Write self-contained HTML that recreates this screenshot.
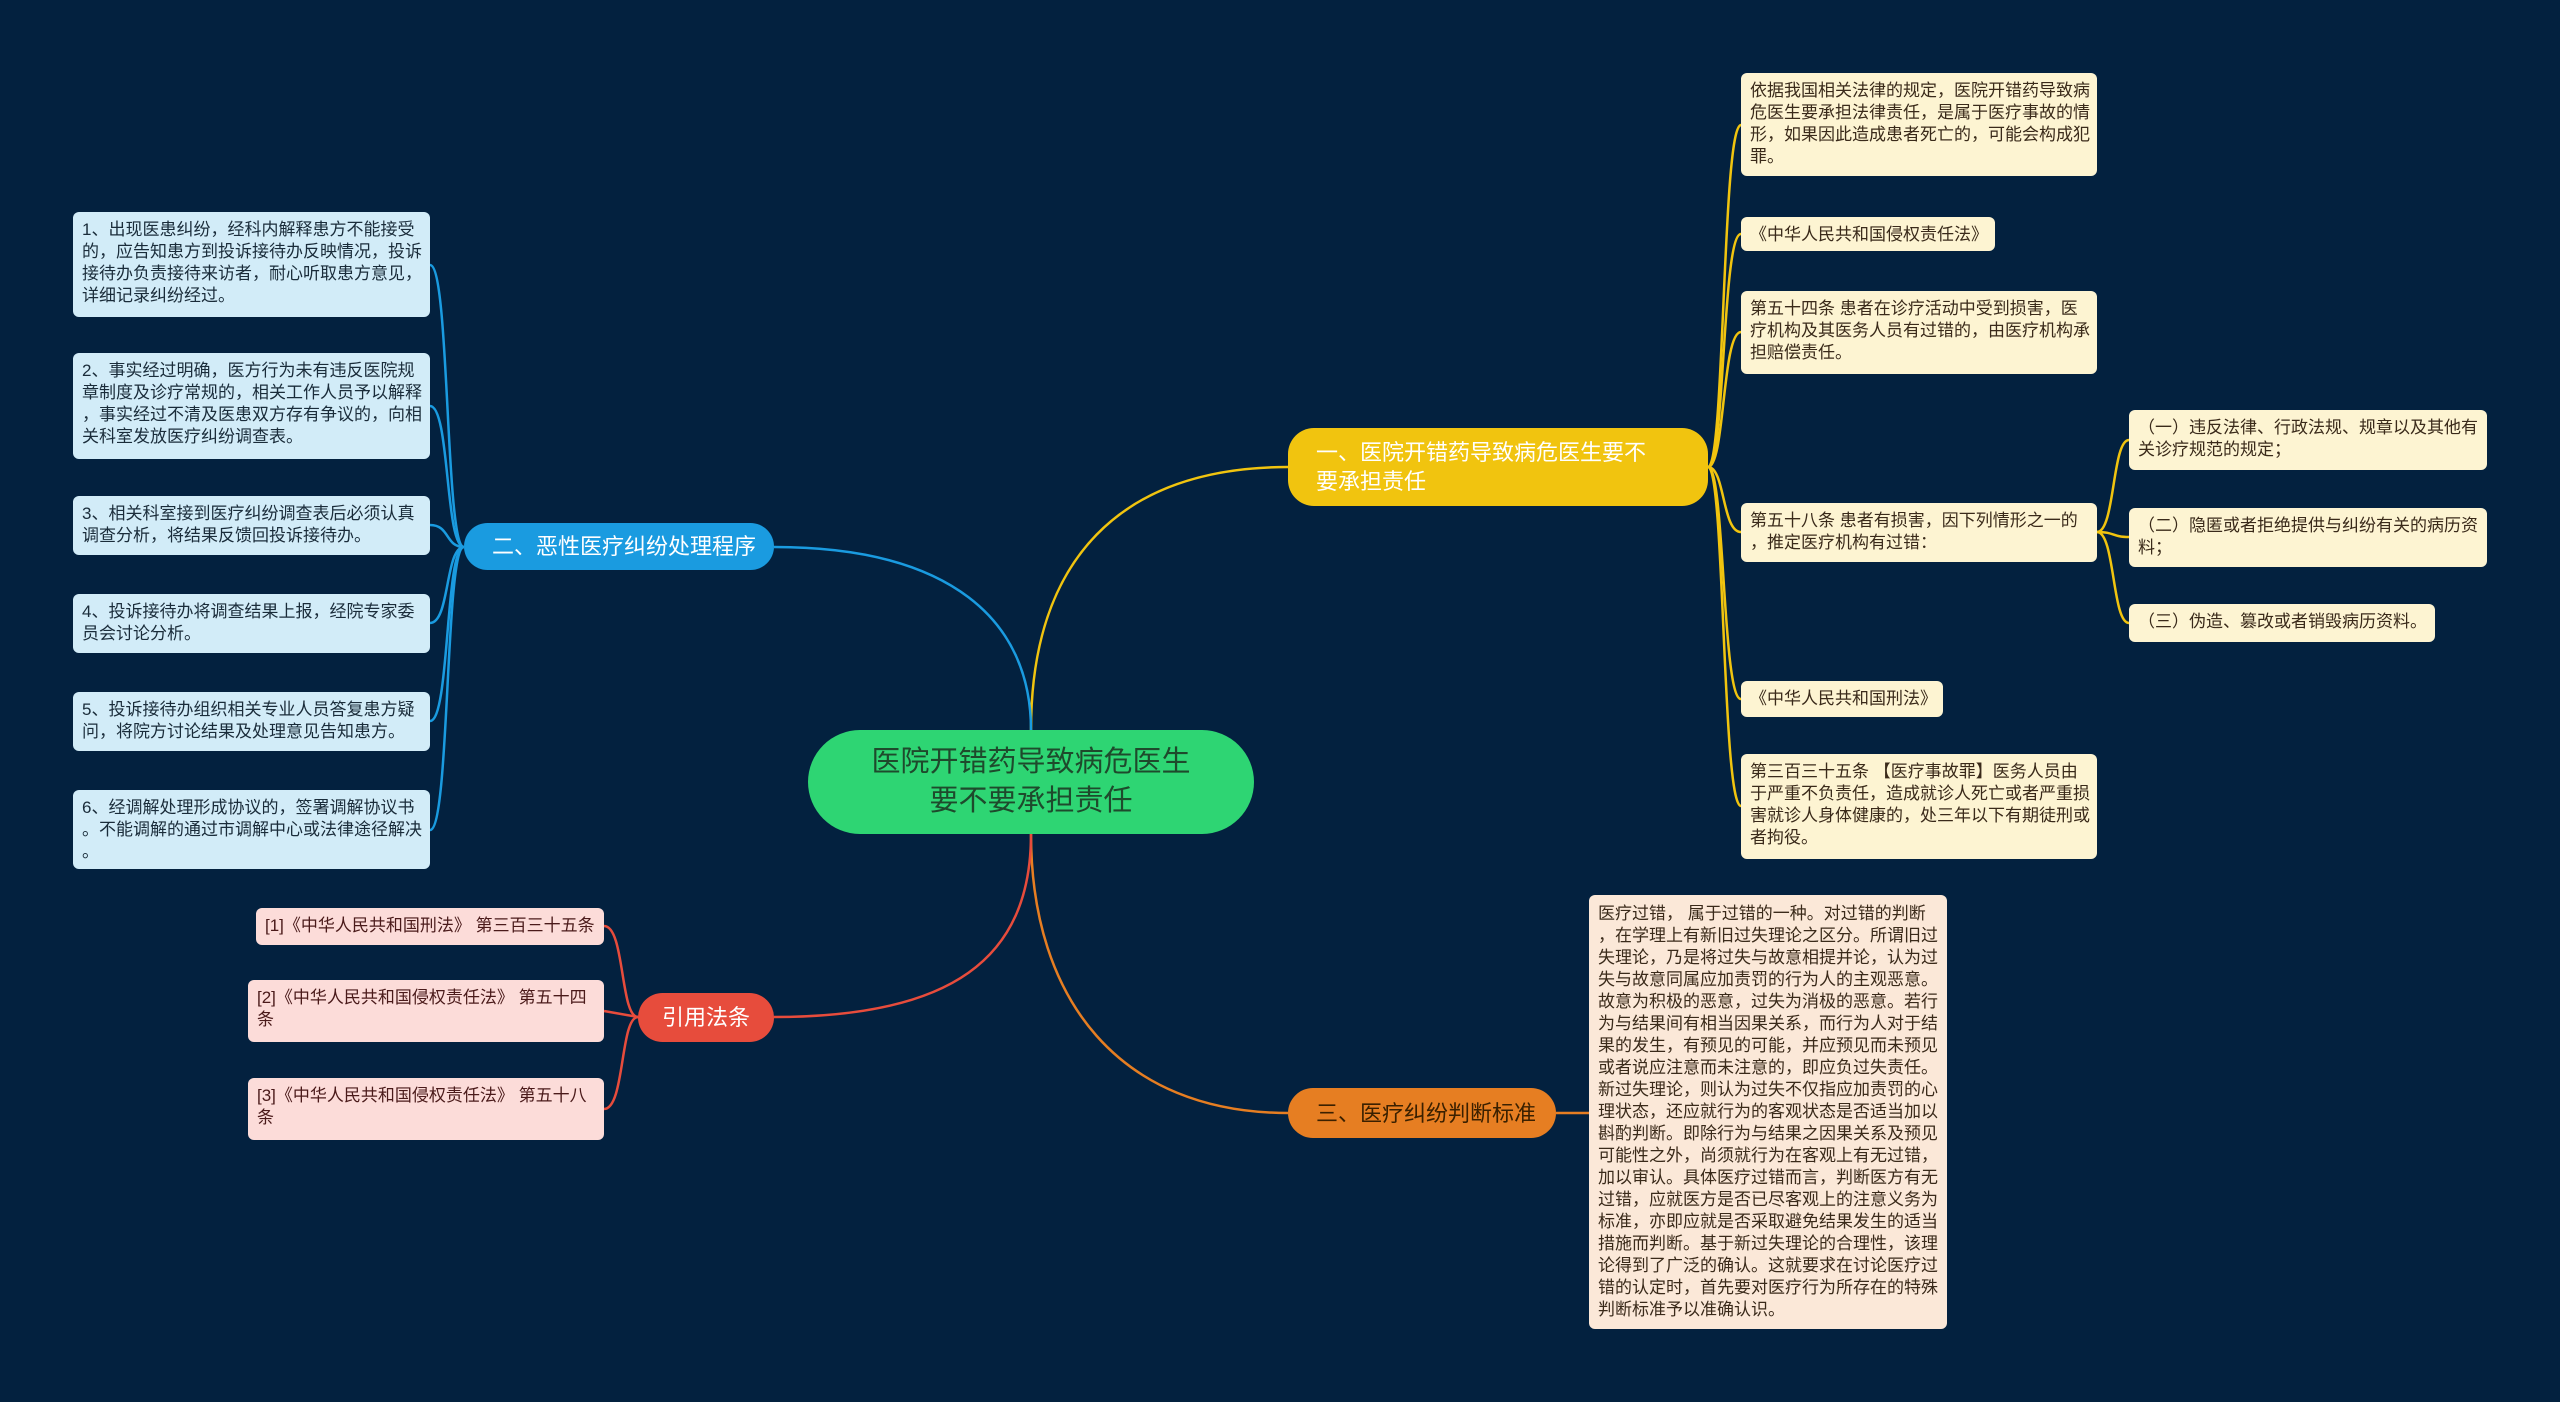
<!DOCTYPE html>
<html><head><meta charset="utf-8"><style>
body{margin:0;width:2560px;height:1402px;background:#03213f;overflow:hidden;position:relative;font-family:"Liberation Sans","Noto Sans CJK SC",sans-serif}
.n{position:absolute;box-sizing:border-box;white-space:nowrap}
.l{font-size:17px;line-height:22px;padding:7px 9px;border-radius:6px;color:#3a2a1a}
.y{background:#fdf4d2}.b{background:#d2ecf8;color:#1a2c3a}.o{background:#fbe8d8}.p{background:#fcdcd9;color:#4a1a1a}
.br{display:flex;align-items:center;font-size:22px;line-height:29px;border-radius:26px;padding:0 28px}
</style></head><body>
<svg width="2560" height="1402" style="position:absolute;left:0;top:0" fill="none">
<g stroke="#f1c40f" stroke-width="2.5">
<path d="M1031,730 C1031,560 1120,467 1288,467"/>
<path d="M1708,467 C1725,467 1722,125 1741,125"/>
<path d="M1708,467 C1725,467 1722,234 1741,234"/>
<path d="M1708,467 C1725,467 1722,332 1741,332"/>
<path d="M1708,467 C1725,467 1722,532 1741,532"/>
<path d="M1708,467 C1725,467 1722,699 1741,699"/>
<path d="M1708,467 C1725,467 1722,806 1741,806"/>
<path d="M2097,532 C2115,532 2112,440 2129,440"/>
<path d="M2097,532 C2115,532 2112,537 2129,537"/>
<path d="M2097,532 C2115,532 2112,623 2129,623"/>
</g>
<g stroke="#1a9be0" stroke-width="2.5">
<path d="M1031,730 C1031,620 950,547 774,547"/>
<path d="M464,547 C445,547 450,265 430,265"/>
<path d="M464,547 C445,547 450,406 430,406"/>
<path d="M464,547 C445,547 450,525 430,525"/>
<path d="M464,547 C445,547 450,623 430,623"/>
<path d="M464,547 C445,547 450,721 430,721"/>
<path d="M464,547 C445,547 450,830 430,830"/>
</g>
<g stroke="#e67e22" stroke-width="2.5">
<path d="M1031,834 C1031,1000 1120,1113 1288,1113"/>
<path d="M1556,1113 L1589,1113"/>
</g>
<g stroke="#e74c3c" stroke-width="2.5">
<path d="M1031,834 C1031,960 950,1017 774,1017"/>
<path d="M638,1017 C620,1017 625,926 604,926"/>
<path d="M638,1017 L604,1011"/>
<path d="M638,1017 C620,1017 625,1109 604,1109"/>
</g>
</svg>

<div class="n" style="left:808px;top:730px;width:446px;height:104px;background:#2ed573;border-radius:52px;color:#1e4a2c;font-size:29px;line-height:39px;text-align:center;padding-top:13px">医院开错药导致病危医生<br>要不要承担责任</div>

<div class="n br" style="left:1288px;top:428px;width:420px;height:78px;background:#f1c40f;color:#fff">一、医院开错药导致病危医生要不<br>要承担责任</div>
<div class="n br" style="left:464px;top:523px;width:310px;height:47px;background:#1a9be0;color:#fff">二、恶性医疗纠纷处理程序</div>
<div class="n br" style="left:1288px;top:1088px;width:268px;height:50px;background:#e67e22;color:#3a2000">三、医疗纠纷判断标准</div>
<div class="n br" style="left:638px;top:993px;width:136px;height:49px;background:#e74c3c;color:#fff;justify-content:center;padding:0">引用法条</div>

<div class="n l y" style="left:1741px;top:73px;width:356px;height:103px">依据我国相关法律的规定，医院开错药导致病<br>危医生要承担法律责任，是属于医疗事故的情<br>形，如果因此造成患者死亡的，可能会构成犯<br>罪。</div>
<div class="n l y" style="left:1741px;top:217px;width:254px;height:34px">《中华人民共和国侵权责任法》</div>
<div class="n l y" style="left:1741px;top:291px;width:356px;height:83px">第五十四条 患者在诊疗活动中受到损害，医<br>疗机构及其医务人员有过错的，由医疗机构承<br>担赔偿责任。</div>
<div class="n l y" style="left:1741px;top:503px;width:356px;height:59px">第五十八条 患者有损害，因下列情形之一的<br>，推定医疗机构有过错：</div>
<div class="n l y" style="left:1741px;top:681px;width:202px;height:36px">《中华人民共和国刑法》</div>
<div class="n l y" style="left:1741px;top:754px;width:356px;height:105px">第三百三十五条 【医疗事故罪】医务人员由<br>于严重不负责任，造成就诊人死亡或者严重损<br>害就诊人身体健康的，处三年以下有期徒刑或<br>者拘役。</div>
<div class="n l y" style="left:2129px;top:410px;width:358px;height:60px">（一）违反法律、行政法规、规章以及其他有<br>关诊疗规范的规定；</div>
<div class="n l y" style="left:2129px;top:508px;width:358px;height:59px">（二）隐匿或者拒绝提供与纠纷有关的病历资<br>料；</div>
<div class="n l y" style="left:2129px;top:604px;width:306px;height:38px">（三）伪造、篡改或者销毁病历资料。</div>

<div class="n l b" style="left:73px;top:212px;width:357px;height:105px">1、出现医患纠纷，经科内解释患方不能接受<br>的，应告知患方到投诉接待办反映情况，投诉<br>接待办负责接待来访者，耐心听取患方意见，<br>详细记录纠纷经过。</div>
<div class="n l b" style="left:73px;top:353px;width:357px;height:106px">2、事实经过明确，医方行为未有违反医院规<br>章制度及诊疗常规的，相关工作人员予以解释<br>，事实经过不清及医患双方存有争议的，向相<br>关科室发放医疗纠纷调查表。</div>
<div class="n l b" style="left:73px;top:496px;width:357px;height:59px">3、相关科室接到医疗纠纷调查表后必须认真<br>调查分析，将结果反馈回投诉接待办。</div>
<div class="n l b" style="left:73px;top:594px;width:357px;height:59px">4、投诉接待办将调查结果上报，经院专家委<br>员会讨论分析。</div>
<div class="n l b" style="left:73px;top:692px;width:357px;height:59px">5、投诉接待办组织相关专业人员答复患方疑<br>问，将院方讨论结果及处理意见告知患方。</div>
<div class="n l b" style="left:73px;top:790px;width:357px;height:79px">6、经调解处理形成协议的，签署调解协议书<br>。不能调解的通过市调解中心或法律途径解决<br>。</div>

<div class="n l p" style="left:256px;top:908px;width:348px;height:37px">[1]《中华人民共和国刑法》 第三百三十五条</div>
<div class="n l p" style="left:248px;top:980px;width:356px;height:62px">[2]《中华人民共和国侵权责任法》 第五十四<br>条</div>
<div class="n l p" style="left:248px;top:1078px;width:356px;height:62px">[3]《中华人民共和国侵权责任法》 第五十八<br>条</div>

<div class="n l o" style="left:1589px;top:895px;width:358px;height:434px;padding-top:8px">医疗过错， 属于过错的一种。对过错的判断<br>，在学理上有新旧过失理论之区分。所谓旧过<br>失理论，乃是将过失与故意相提并论，认为过<br>失与故意同属应加责罚的行为人的主观恶意。<br>故意为积极的恶意，过失为消极的恶意。若行<br>为与结果间有相当因果关系，而行为人对于结<br>果的发生，有预见的可能，并应预见而未预见<br>或者说应注意而未注意的，即应负过失责任。<br>新过失理论，则认为过失不仅指应加责罚的心<br>理状态，还应就行为的客观状态是否适当加以<br>斟酌判断。即除行为与结果之因果关系及预见<br>可能性之外，尚须就行为在客观上有无过错，<br>加以审认。具体医疗过错而言，判断医方有无<br>过错，应就医方是否已尽客观上的注意义务为<br>标准，亦即应就是否采取避免结果发生的适当<br>措施而判断。基于新过失理论的合理性，该理<br>论得到了广泛的确认。这就要求在讨论医疗过<br>错的认定时，首先要对医疗行为所存在的特殊<br>判断标准予以准确认识。</div>
</body></html>
